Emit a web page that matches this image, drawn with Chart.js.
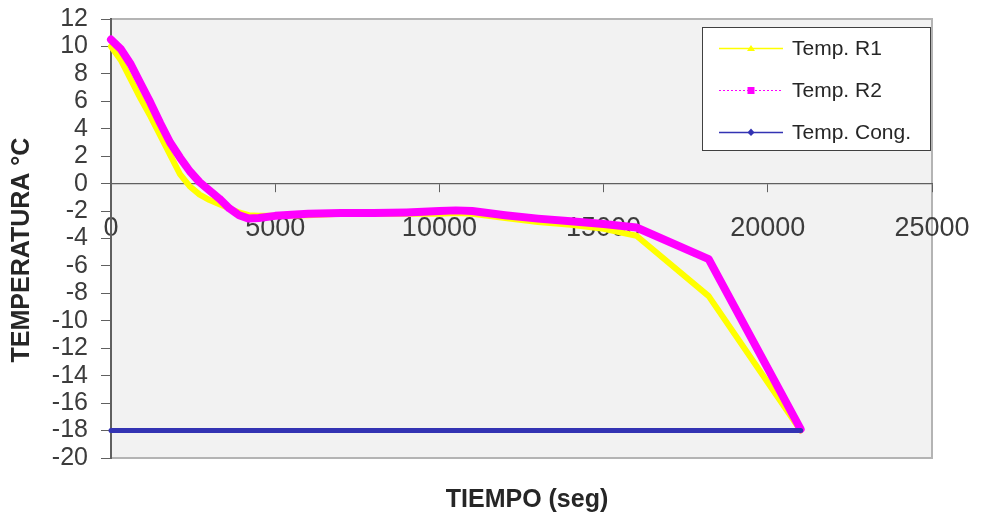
<!DOCTYPE html>
<html>
<head>
<meta charset="utf-8">
<title>Temperatura vs tiempo</title>
<script src="https://cdn.jsdelivr.net/npm/chart.js@4"></script>
<style>
  html, body { margin: 0; padding: 0; background: #fff; }
  #grafico { display: block; }
</style>
</head>
<body>
<canvas id="grafico" width="983" height="521"></canvas>
<script>
// =============================================
//  DATOS
// =============================================
const tiempo = [0, 300, 600, 900, 1200, 1500, 1800, 2100, 2400, 2700, 3000, 3300, 3600, 3900, 4200, 4500,
                5000, 6000, 7000, 8000, 9000, 10000, 10500, 11000, 12000, 13000, 14000, 15000, 16000, 18200, 21000];

const tempR1 = [10, 9.0, 7.6, 6.2, 4.9, 3.5, 2.1, 0.7, -0.2, -0.8, -1.2, -1.5, -1.8, -2.1, -2.3, -2.35,
                -2.35, -2.3, -2.2, -2.2, -2.2, -2.2, -2.15, -2.2, -2.5, -2.8, -3.0, -3.3, -3.8, -8.2, -18];

const tempR2 = [10.5, 9.8, 8.7, 7.3, 5.9, 4.4, 3.0, 1.9, 0.9, 0.1, -0.5, -1.1, -1.8, -2.3, -2.55, -2.5,
                -2.35, -2.2, -2.15, -2.15, -2.1, -2.0, -1.95, -2.0, -2.3, -2.55, -2.75, -2.95, -3.2, -5.5, -17.9];

const tiempoCong = [0, 21000];
const tempCong   = [-18, -18];

const nombres = ['Temp. R1', 'Temp. R2', 'Temp. Cong.'];
const colores = ['#ffff00', '#ff00ff', '#3333b3'];

const ejeX = { min: 0, max: 25000, paso: 5000 };
const ejeY = { min: -20, max: 12, paso: 2 };

const FUENTE = '"Liberation Sans", Arial, sans-serif';

function puntos(xs, ys) {
  return xs.map((x, i) => ({ x, y: ys[i] }));
}

// sin márgenes automáticos: el área la fija layout.padding
function sinRelleno(s) {
  s.paddingTop = 0;
  s.paddingBottom = 0;
  s.paddingLeft = 0;
  s.paddingRight = 0;
}

// =============================================
//  PLUGINS
// =============================================
// Fondo gris del área de trazado y marco
const fondo = {
  id: 'fondo',
  beforeDraw(chart) {
    const { ctx, chartArea: a } = chart;
    ctx.save();
    ctx.fillStyle = '#f2f2f2';
    ctx.fillRect(a.left, a.top, a.right - a.left, a.bottom - a.top);
    ctx.strokeStyle = '#b4b4b4';
    ctx.lineWidth = 2;
    ctx.beginPath();
    ctx.moveTo(a.left, a.top);
    ctx.lineTo(a.right, a.top);
    ctx.lineTo(a.right, a.bottom);
    ctx.lineTo(a.left, a.bottom);
    ctx.stroke();
    ctx.restore();
  }
};

// Títulos de los ejes
const titulos = {
  id: 'titulos',
  afterDraw(chart) {
    const ctx = chart.ctx;
    ctx.save();
    ctx.fillStyle = '#262626';
    ctx.font = 'bold 25px ' + FUENTE;
    ctx.textAlign = 'center';
    ctx.textBaseline = 'middle';
    ctx.fillText('TIEMPO (seg)', 527, 500);
    ctx.translate(22, 250);
    ctx.rotate(-Math.PI / 2);
    ctx.fillText('TEMPERATURA °C', 0, 0);
    ctx.restore();
  }
};

// Leyenda dentro del área de trazado (estilo Excel)
const leyenda = {
  id: 'leyenda',
  afterDraw(chart) {
    const ctx = chart.ctx;
    const filas = [48, 90, 132];
    ctx.save();
    ctx.fillStyle = '#ffffff';
    ctx.fillRect(702.5, 27.5, 228, 123);
    ctx.strokeStyle = '#404040';
    ctx.lineWidth = 1;
    ctx.strokeRect(702.5, 27.5, 228, 123);

    chart.data.datasets.forEach((ds, i) => {
      const y = filas[i];
      ctx.strokeStyle = ds.borderColor;
      ctx.fillStyle = ds.borderColor;
      ctx.lineWidth = ds.marca === 'cuadrado' ? 1 : 1.6;
      ctx.setLineDash(ds.marca === 'cuadrado' ? [2, 2] : []);
      ctx.beginPath();
      ctx.moveTo(719, y + 0.5);
      ctx.lineTo(783, y + 0.5);
      ctx.stroke();
      ctx.setLineDash([]);

      ctx.beginPath();
      if (ds.marca === 'triangulo') {
        ctx.moveTo(751, y - 3);
        ctx.lineTo(747, y + 3);
        ctx.lineTo(755, y + 3);
      } else if (ds.marca === 'cuadrado') {
        ctx.rect(747.5, y - 3, 7, 7);
      } else {
        ctx.moveTo(751, y - 3.5);
        ctx.lineTo(754.5, y + 0.5);
        ctx.lineTo(751, y + 4);
        ctx.lineTo(747.5, y + 0.5);
      }
      ctx.closePath();
      ctx.fill();

      ctx.fillStyle = '#262626';
      ctx.font = '21px ' + FUENTE;
      ctx.textAlign = 'left';
      ctx.textBaseline = 'middle';
      ctx.fillText(ds.label, 792, y + 1);
    });
    ctx.restore();
  }
};

// =============================================
//  GRÁFICO
// =============================================
const ctx = document.getElementById('grafico').getContext('2d');

new Chart(ctx, {
  type: 'line',
  data: {
    datasets: [
      {
        label: nombres[0],
        data: puntos(tiempo, tempR1),
        borderColor: colores[0],
        borderWidth: 6,
        marca: 'triangulo',
        order: 3
      },
      {
        label: nombres[1],
        data: puntos(tiempo, tempR2),
        borderColor: colores[1],
        borderWidth: 8,
        marca: 'cuadrado',
        order: 2
      },
      {
        label: nombres[2],
        data: puntos(tiempoCong, tempCong),
        borderColor: colores[2],
        borderWidth: 5,
        marca: 'rombo',
        order: 1
      }
    ]
  },
  options: {
    responsive: false,
    animation: false,
    layout: { padding: { left: 8, top: 19, right: 51, bottom: 63 } },
    elements: {
      point: { radius: 0, hoverRadius: 0 },
      line: { tension: 0, borderJoinStyle: 'round', borderCapStyle: 'round' }
    },
    datasets: { line: { clip: false } },
    plugins: {
      legend: { display: false },
      tooltip: { enabled: false }
    },
    scales: {
      x: {
        type: 'linear',
        position: { y: 0 },
        min: ejeX.min,
        max: ejeX.max,
        afterFit: sinRelleno,
        grid: { drawOnChartArea: false, drawTicks: true, tickLength: 8, color: '#606060' },
        border: { display: true, color: '#606060', width: 1.2 },
        ticks: {
          stepSize: ejeX.paso,
          padding: 21,
          maxRotation: 0,
          autoSkip: false,
          color: '#3c3c3c',
          font: { family: FUENTE, size: 27 },
          callback: v => String(v)
        }
      },
      y: {
        type: 'linear',
        position: 'left',
        min: ejeY.min,
        max: ejeY.max,
        afterFit: s => { sinRelleno(s); s.width = 103; },
        grid: { drawOnChartArea: false, drawTicks: true, tickLength: 10, color: '#606060' },
        border: { display: true, color: '#606060', width: 2 },
        ticks: {
          stepSize: ejeY.paso,
          padding: 13,
          autoSkip: false,
          color: '#3c3c3c',
          font: { family: FUENTE, size: 25 },
          callback: v => String(v)
        }
      }
    }
  },
  plugins: [fondo, titulos, leyenda]
});
</script>
</body>
</html>
